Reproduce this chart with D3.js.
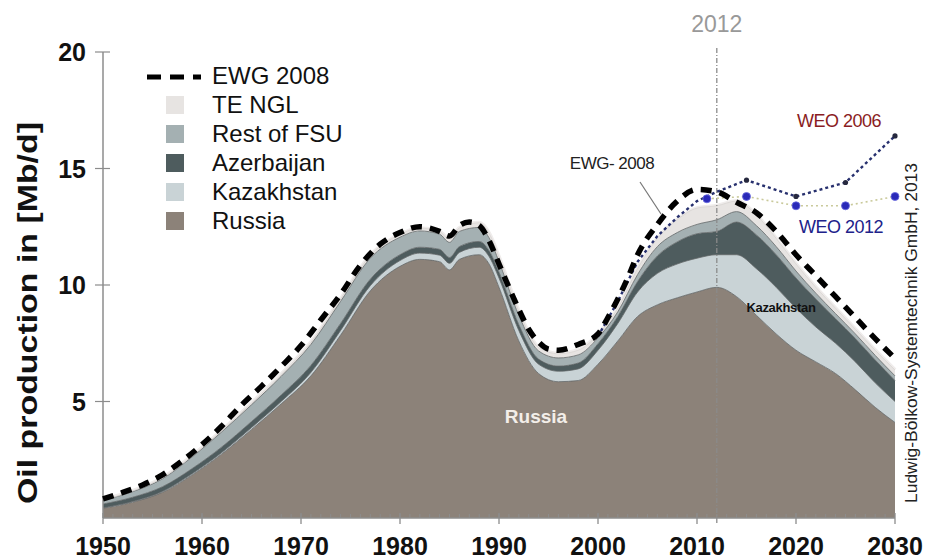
<!DOCTYPE html>
<html>
<head>
<meta charset="utf-8">
<script src="https://cdn.jsdelivr.net/npm/d3@7"></script>
<style>
  body { margin: 0; background: #fff; }
  svg { display: block; font-family: "Liberation Sans", Arial, sans-serif; }
</style>
</head>
<body>
<svg id="chart" width="926" height="559"></svg>
<script>
// stacked production, Mb/d
var years = [1950,1953,1956,1959,1962,1965,1968,1971,1974,1977,1980,1982,1984,1985,1986,1988,1989,1990,1992,1994,1996,1998,2000,2002,2004,2006,2008,2010,2012,2014,2016,2018,2020,2022,2024,2026,2028,2030];
var russia = [0.42,0.68,1.1,1.85,2.75,3.8,4.9,6.1,7.85,9.75,10.8,11.1,11.0,10.65,11.1,11.3,10.9,9.9,7.6,6.2,5.85,5.9,6.6,7.6,8.65,9.15,9.45,9.7,9.9,9.5,8.7,7.9,7.2,6.7,6.2,5.5,4.75,4.1];
var kazakhstan = [0.02,0.03,0.04,0.05,0.06,0.08,0.1,0.15,0.2,0.22,0.25,0.27,0.28,0.28,0.3,0.32,0.32,0.4,0.45,0.4,0.45,0.5,0.6,0.75,1.05,1.35,1.45,1.45,1.4,1.8,2.0,2.0,1.8,1.5,1.3,1.2,1.05,0.9];
var azerbaijan = [0.16,0.18,0.2,0.22,0.24,0.26,0.28,0.3,0.3,0.28,0.25,0.25,0.25,0.25,0.25,0.25,0.25,0.25,0.25,0.22,0.22,0.25,0.28,0.3,0.45,0.75,0.95,1.05,1.0,1.4,1.45,1.4,1.3,1.2,1.05,1.0,0.98,0.9];
var restFSU = [0.16,0.24,0.34,0.5,0.65,0.72,0.8,0.9,0.95,0.9,0.75,0.7,0.65,0.65,0.65,0.6,0.55,0.45,0.4,0.35,0.35,0.35,0.25,0.2,0.3,0.4,0.4,0.4,0.5,0.45,0.4,0.35,0.3,0.25,0.22,0.2,0.2,0.2];
var teNGL = [0.02,0.03,0.04,0.05,0.06,0.07,0.08,0.09,0.1,0.12,0.12,0.12,0.12,0.12,0.15,0.2,0.2,0.2,0.18,0.15,0.18,0.2,0.15,0.15,0.25,0.35,0.55,0.7,0.6,0.45,0.45,0.35,0.3,0.25,0.23,0.2,0.22,0.25];

// EWG 2008 scenario
var ewgYears = [1950,1952,1954,1956,1958,1960,1962,1964,1966,1968,1970,1972,1974,1976,1978,1980,1982,1984,1985,1986,1987,1988,1989,1990,1991,1992,1993,1994,1995,1996,1998,2000,2001,2002,2003,2004,2006,2008,2010,2012,2014,2016,2018,2020,2022,2024,2026,2028,2030];
var ewg2008 = [0.82,1.1,1.42,1.85,2.45,3.15,3.95,4.85,5.65,6.5,7.4,8.5,9.6,10.85,11.75,12.25,12.5,12.3,12.1,12.55,12.7,12.55,11.9,10.9,9.9,8.95,8.1,7.55,7.25,7.2,7.45,7.9,8.6,9.4,10.3,11.3,12.6,13.6,14.1,14.0,13.55,13.1,12.3,11.3,10.4,9.5,8.6,7.7,6.85];

// IEA outlooks
var weo2006Years = [2000,2002,2004,2006,2008,2010,2012,2015,2020,2025,2030];
var weo2006 = [7.8,9.3,11.0,12.1,12.9,13.6,14.0,14.5,13.8,14.4,16.4];
var weo2006Marks = [2015,2020,2025,2030];
var weo2012Years = [2011,2015,2020,2025,2030];
var weo2012 = [13.7,13.8,13.4,13.4,13.8];

var xTicks = [1950,1960,1970,1980,1990,2000,2010,2020,2030];
var yTicks = [5,10,15,20];

var layers = [
    {key: "russia", name: "Russia", values: russia, color: "#8c8279"},
    {key: "kazakhstan", name: "Kazakhstan", values: kazakhstan, color: "#c9d3d6"},
    {key: "azerbaijan", name: "Azerbaijan", values: azerbaijan, color: "#4e5c5e"},
    {key: "restFSU", name: "Rest of FSU", values: restFSU, color: "#a4b0b2"},
    {key: "teNGL", name: "TE NGL", values: teNGL, color: "#e7e4e2"}
];

var svg = d3.select("#chart");

var x = d3.scaleLinear().domain([1950, 2030]).range([103, 895]);
var y = d3.scaleLinear().domain([0, 20]).range([518, 52]);

var rows = years.map(function(yr, i) {
    var r = {year: yr};
    layers.forEach(function(l) { r[l.key] = l.values[i]; });
    return r;
});

var series = d3.stack().keys(layers.map(function(l) { return l.key; }))(rows);

var area = d3.area()
    .curve(d3.curveMonotoneX)
    .x(function(d) { return x(d.data.year); })
    .y0(function(d) { return y(d[0]); })
    .y1(function(d) { return y(d[1]); });

var edge = d3.line()
    .curve(d3.curveMonotoneX)
    .x(function(d) { return x(d.data.year); })
    .y(function(d) { return y(d[1]); });

var g = svg.append("g");

// halo above the stack
g.append("path")
    .datum(series[series.length - 1])
    .attr("d", edge)
    .attr("fill", "none")
    .attr("stroke", "#efeceb")
    .attr("stroke-width", 4);

g.selectAll("path.layer")
    .data(series)
    .enter().append("path")
    .attr("class", "layer")
    .attr("d", area)
    .attr("fill", function(d, i) { return layers[i].color; });

g.selectAll("path.edge")
    .data(series)
    .enter().append("path")
    .attr("class", "edge")
    .attr("d", edge)
    .attr("fill", "none")
    .attr("stroke", function(d, i) { return i == series.length - 1 ? "#d8d4d2" : "#5f6466"; })
    .attr("stroke-width", 0.8);

// 2012 marker line
svg.append("line")
    .attr("x1", x(2012)).attr("x2", x(2012))
    .attr("y1", 48).attr("y2", 524)
    .attr("stroke", "#8a8a8a")
    .attr("stroke-width", 1.3)
    .attr("stroke-dasharray", "5,2,1,2");

svg.append("text")
    .attr("x", x(2012)).attr("y", 32)
    .attr("text-anchor", "middle")
    .attr("font-size", 23)
    .attr("fill", "#999")
    .text("2012");

// axes
var axisColor = "#8c8c8c";
svg.append("line")
    .attr("x1", 103).attr("x2", 103)
    .attr("y1", y(20)).attr("y2", y(0))
    .attr("stroke", axisColor).attr("stroke-width", 1.5);
svg.append("line")
    .attr("x1", x(1950)).attr("x2", x(2030))
    .attr("y1", y(0)).attr("y2", y(0))
    .attr("stroke", axisColor).attr("stroke-width", 1.5);

svg.selectAll("line.ytick")
    .data(yTicks)
    .enter().append("line")
    .attr("class", "ytick")
    .attr("x1", 95).attr("x2", 110)
    .attr("y1", function(d) { return y(d); })
    .attr("y2", function(d) { return y(d); })
    .attr("stroke", axisColor).attr("stroke-width", 1.2);

svg.selectAll("text.ylab")
    .data(yTicks)
    .enter().append("text")
    .attr("class", "ylab")
    .attr("x", 86)
    .attr("y", function(d) { return y(d) + 9; })
    .attr("text-anchor", "end")
    .attr("font-size", 25)
    .attr("font-weight", "bold")
    .attr("fill", "#111")
    .text(function(d) { return d; });

svg.selectAll("line.xminor")
    .data(d3.range(1951, 2030))
    .enter().append("line")
    .attr("class", "xminor")
    .attr("x1", function(d) { return x(d); })
    .attr("x2", function(d) { return x(d); })
    .attr("y1", y(0) - 4).attr("y2", y(0))
    .attr("stroke", axisColor).attr("stroke-width", 1);

svg.selectAll("line.xtick")
    .data(xTicks)
    .enter().append("line")
    .attr("class", "xtick")
    .attr("x1", function(d) { return x(d); })
    .attr("x2", function(d) { return x(d); })
    .attr("y1", y(0) - 5).attr("y2", y(0) + 6)
    .attr("stroke", axisColor).attr("stroke-width", 1.3);

svg.selectAll("text.xlab")
    .data(xTicks)
    .enter().append("text")
    .attr("class", "xlab")
    .attr("x", function(d) { return x(d); })
    .attr("y", 555)
    .attr("text-anchor", "middle")
    .attr("font-size", 25)
    .attr("font-weight", "bold")
    .attr("fill", "#111")
    .text(function(d) { return d; });

svg.append("text")
    .attr("transform", "translate(37,313) rotate(-90)")
    .attr("text-anchor", "middle")
    .attr("font-size", 28)
    .attr("font-weight", "bold")
    .attr("textLength", 382)
    .attr("lengthAdjust", "spacingAndGlyphs")
    .attr("fill", "#111")
    .text("Oil production in [Mb/d]");

// WEO lines
var lineXY = function(xs, ys) {
    return d3.line().curve(d3.curveLinear)
        .x(function(d, i) { return x(xs[i]); })
        .y(function(d, i) { return y(ys[i]); })(ys);
};

svg.append("path")
    .attr("d", lineXY(weo2012Years, weo2012))
    .attr("fill", "none")
    .attr("stroke", "#c9c99a")
    .attr("stroke-width", 1.6)
    .attr("stroke-dasharray", "2,3");

svg.append("path")
    .attr("d", lineXY(weo2006Years, weo2006))
    .attr("fill", "none")
    .attr("stroke", "#27306e")
    .attr("stroke-width", 2.4)
    .attr("stroke-dasharray", "3,3");

svg.selectAll("circle.w06")
    .data(weo2006Marks)
    .enter().append("circle")
    .attr("class", "w06")
    .attr("cx", function(d) { return x(d); })
    .attr("cy", function(d) { return y(weo2006[weo2006Years.indexOf(d)]); })
    .attr("r", 2.6)
    .attr("fill", "#26283e");

svg.selectAll("circle.w12")
    .data(weo2012Years)
    .enter().append("circle")
    .attr("class", "w12")
    .attr("cx", function(d) { return x(d); })
    .attr("cy", function(d, i) { return y(weo2012[i]); })
    .attr("r", 4)
    .attr("fill", "#2a2ab8")
    .attr("stroke", "#6a6ae0")
    .attr("stroke-width", 0.8);

// EWG 2008 dashed
svg.append("path")
    .attr("d", d3.line().curve(d3.curveMonotoneX)
        .x(function(d, i) { return x(ewgYears[i]); })
        .y(function(d) { return y(d); })(ewg2008))
    .attr("fill", "none")
    .attr("stroke", "#000")
    .attr("stroke-width", 5.5)
    .attr("stroke-dasharray", "11,8");

// annotations
svg.append("text")
    .attr("x", 839).attr("y", 127)
    .attr("text-anchor", "middle")
    .attr("font-size", 18)
    .attr("letter-spacing", -0.5)
    .attr("fill", "#8a1c22")
    .text("WEO 2006");

svg.append("text")
    .attr("x", 841).attr("y", 233)
    .attr("text-anchor", "middle")
    .attr("font-size", 18)
    .attr("letter-spacing", -0.5)
    .attr("fill", "#20228a")
    .text("WEO 2012");

svg.append("text")
    .attr("x", 612).attr("y", 169)
    .attr("text-anchor", "middle")
    .attr("font-size", 17)
    .attr("letter-spacing", -0.5)
    .attr("fill", "#222")
    .text("EWG- 2008");

svg.append("line")
    .attr("x1", 640).attr("y1", 182)
    .attr("x2", 661).attr("y2", 214)
    .attr("stroke", "#777").attr("stroke-width", 1.2);

svg.append("text")
    .attr("x", 781).attr("y", 312)
    .attr("text-anchor", "middle")
    .attr("font-size", 13)
    .attr("font-weight", "bold")
    .attr("letter-spacing", -0.3)
    .attr("fill", "#111")
    .text("Kazakhstan");

svg.append("text")
    .attr("x", 536).attr("y", 423)
    .attr("text-anchor", "middle")
    .attr("font-size", 19)
    .attr("font-weight", "bold")
    .attr("fill", "#f3eee9")
    .text("Russia");

svg.append("text")
    .attr("transform", "translate(917,333) rotate(-90)")
    .attr("text-anchor", "middle")
    .attr("font-size", 16)
    .attr("textLength", 340)
    .attr("lengthAdjust", "spacingAndGlyphs")
    .attr("fill", "#222")
    .text("Ludwig-Bölkow-Systemtechnik GmbH, 2013");

// legend
var legend = svg.append("g");
legend.append("line")
    .attr("x1", 147).attr("x2", 201)
    .attr("y1", 77).attr("y2", 77)
    .attr("stroke", "#000")
    .attr("stroke-width", 5)
    .attr("stroke-dasharray", "14,9");
legend.append("text")
    .attr("x", 212).attr("y", 84)
    .attr("font-size", 24)
    .attr("fill", "#111")
    .text("EWG 2008");

var legendItems = layers.slice().reverse();
legend.selectAll("rect.sw")
    .data(legendItems)
    .enter().append("rect")
    .attr("class", "sw")
    .attr("x", 166)
    .attr("y", function(d, i) { return 105 + i * 29 - 9; })
    .attr("width", 18).attr("height", 18)
    .attr("fill", function(d) { return d.color; });
legend.selectAll("text.lt")
    .data(legendItems)
    .enter().append("text")
    .attr("class", "lt")
    .attr("x", 212)
    .attr("y", function(d, i) { return 113 + i * 29; })
    .attr("font-size", 24)
    .attr("fill", "#111")
    .text(function(d) { return d.name; });
</script>
</body>
</html>
